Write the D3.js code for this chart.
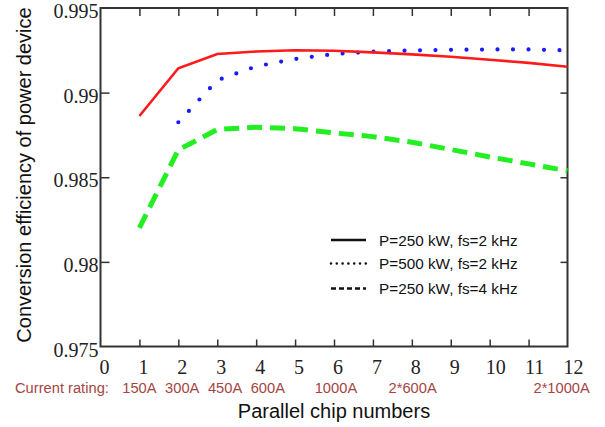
<!DOCTYPE html>
<html><head><meta charset="utf-8">
<script src="https://cdn.jsdelivr.net/npm/d3@7"></script>
<style>html,body{margin:0;padding:0;background:#fff;}</style>
</head><body>
<script>
const chips = [1,2,3,4,5,6,7,8,9,10,11,12];
const redVals = [0.98862,0.99144,0.99228,0.99243,0.99250,0.99247,0.99238,0.99226,0.99212,0.99194,0.99176,0.99153];
const blueChips = [2,3,4,5,6,7,8,9,10,11,12];
const blueVals = [0.98825,0.99073,0.99155,0.99199,0.99228,0.99242,0.99249,0.99253,0.99255,0.99255,0.99250];
const greenVals = [0.98201,0.98662,0.98782,0.98796,0.98787,0.98762,0.98740,0.98707,0.98664,0.98620,0.98579,0.98538];
const xTicks = [0,1,2,3,4,5,6,7,8,9,10,11,12];
const yTicks = [0.975,0.98,0.985,0.99,0.995];
const yTickLabels = ["0.975","0.98","0.985","0.99","0.995"];
const ratingPos = [1,2.1,3.2,4.3,6.05,8.02,11.85];
const ratingLabels = ["150A","300A","450A","600A","1000A","2*600A","2*1000A"];
const legendLabels = ["P=250 kW, fs=2 kHz","P=500 kW, fs=2 kHz","P=250 kW, fs=4 kHz"];

const W=605,H=427;
const L=100.5,R=567.5,T=8,B=346.5;
const x=d3.scaleLinear().domain([0,12]).range([L,R]);
const y=d3.scaleLinear().domain([0.975,0.995]).range([B,T]);
const svg=d3.select("body").append("svg").attr("width",W).attr("height",H);
svg.append("rect").attr("width",W).attr("height",H).attr("fill","#fff");

const axisCol="#333";
// ticks inward
const xAxisB=d3.axisBottom(x).tickValues(xTicks.slice(1,12)).tickSize(-7).tickFormat("");
svg.append("g").attr("transform",`translate(0,${B})`).call(xAxisB).call(g=>{g.select(".domain").remove();g.selectAll("line").attr("stroke",axisCol).attr("stroke-width",1.5);});
const xAxisT=d3.axisTop(x).tickValues(xTicks.slice(1,12)).tickSize(-8).tickFormat("");
svg.append("g").attr("transform",`translate(0,${T})`).call(xAxisT).call(g=>{g.select(".domain").remove();g.selectAll("line").attr("stroke",axisCol).attr("stroke-width",1.5);});
const yAxisL=d3.axisLeft(y).tickValues(yTicks.slice(1,4)).tickSize(-9).tickFormat("");
svg.append("g").attr("transform",`translate(${L},0)`).call(yAxisL).call(g=>{g.select(".domain").remove();g.selectAll("line").attr("stroke",axisCol).attr("stroke-width",1.5);});
const yAxisR=d3.axisRight(y).tickValues(yTicks.slice(1,4)).tickSize(-7).tickFormat("");
svg.append("g").attr("transform",`translate(${R},0)`).call(yAxisR).call(g=>{g.select(".domain").remove();g.selectAll("line").attr("stroke",axisCol).attr("stroke-width",1.5);});

// frame
svg.append("rect").attr("x",L).attr("y",T).attr("width",R-L).attr("height",B-T)
  .attr("fill","none").attr("stroke",axisCol).attr("stroke-width",2);

// tick labels
svg.append("g").selectAll("text").data(yTicks).join("text")
  .attr("x",L-2).attr("y",d=>y(d)+10).attr("text-anchor","end")
  .attr("font-family","Liberation Serif, Times New Roman, serif").attr("font-size",20).attr("fill","#222")
  .text((d,i)=>yTickLabels[i]);
svg.append("g").selectAll("text").data(xTicks).join("text")
  .attr("x",d=>x(d)+4+(d>=10?2:0)).attr("y",373.5).attr("text-anchor","middle")
  .attr("font-family","Liberation Serif, Times New Roman, serif").attr("font-size",20).attr("fill","#222")
  .text(d=>d);

// current ratings
const rc="#a5453f";
svg.append("text").attr("x",15).attr("y",392.5).attr("font-family","Liberation Sans, Arial, sans-serif")
  .attr("font-size",14.7).attr("fill",rc).text("Current rating:");
svg.append("g").selectAll("text").data(ratingPos).join("text")
  .attr("x",d=>x(d)).attr("y",392.5).attr("text-anchor","middle")
  .attr("font-family","Liberation Sans, Arial, sans-serif").attr("font-size",14.7).attr("fill",rc)
  .text((d,i)=>ratingLabels[i]);

// axis titles
svg.append("text").attr("x",334).attr("y",418).attr("text-anchor","middle")
  .attr("font-family","Liberation Sans, Arial, sans-serif").attr("font-size",20).attr("fill","#111")
  .text("Parallel chip numbers");
svg.append("text").attr("transform","translate(31,175) rotate(-90)").attr("text-anchor","middle")
  .attr("font-family","Liberation Sans, Arial, sans-serif").attr("font-size",20).attr("fill","#111")
  .text("Conversion efficiency of power device");

// lines
const line=d3.line().x(d=>x(d[0])).y(d=>y(d[1]));
svg.append("path").datum(chips.map((c,i)=>[c,greenVals[i]])).attr("d",line)
  .attr("fill","none").attr("stroke","#22ee22").attr("stroke-width",5).attr("stroke-dasharray","15 8");
svg.append("path").datum(blueChips.map((c,i)=>[c,blueVals[i]])).attr("d",line)
  .attr("fill","none").attr("stroke","#1a1aff").attr("stroke-width",4.2).attr("stroke-linecap","round").attr("stroke-dasharray","0 15.5");
svg.append("path").datum(chips.map((c,i)=>[c,redVals[i]])).attr("d",line)
  .attr("fill","none").attr("stroke","#ff1a1a").attr("stroke-width",2.6);

// legend
const lg=svg.append("g");
const rows=[240,263.5,288.5];
const styles=[{w:2.5,da:null,lc:"butt"},{w:2.6,da:"0 5.8",lc:"round"},{w:2.5,da:"5 3",lc:"butt"}];
rows.forEach((ry,i)=>{
  lg.append("line").attr("x1",331).attr("x2",366).attr("y1",ry).attr("y2",ry)
    .attr("stroke","#111").attr("stroke-width",styles[i].w).attr("stroke-linecap",styles[i].lc)
    .attr("stroke-dasharray",styles[i].da);
  lg.append("text").attr("x",379).attr("y",ry+5.5).attr("font-family","Liberation Sans, Arial, sans-serif")
    .attr("font-size",15.3).attr("fill","#111").text(legendLabels[i]);
});
</script>
</body></html>
